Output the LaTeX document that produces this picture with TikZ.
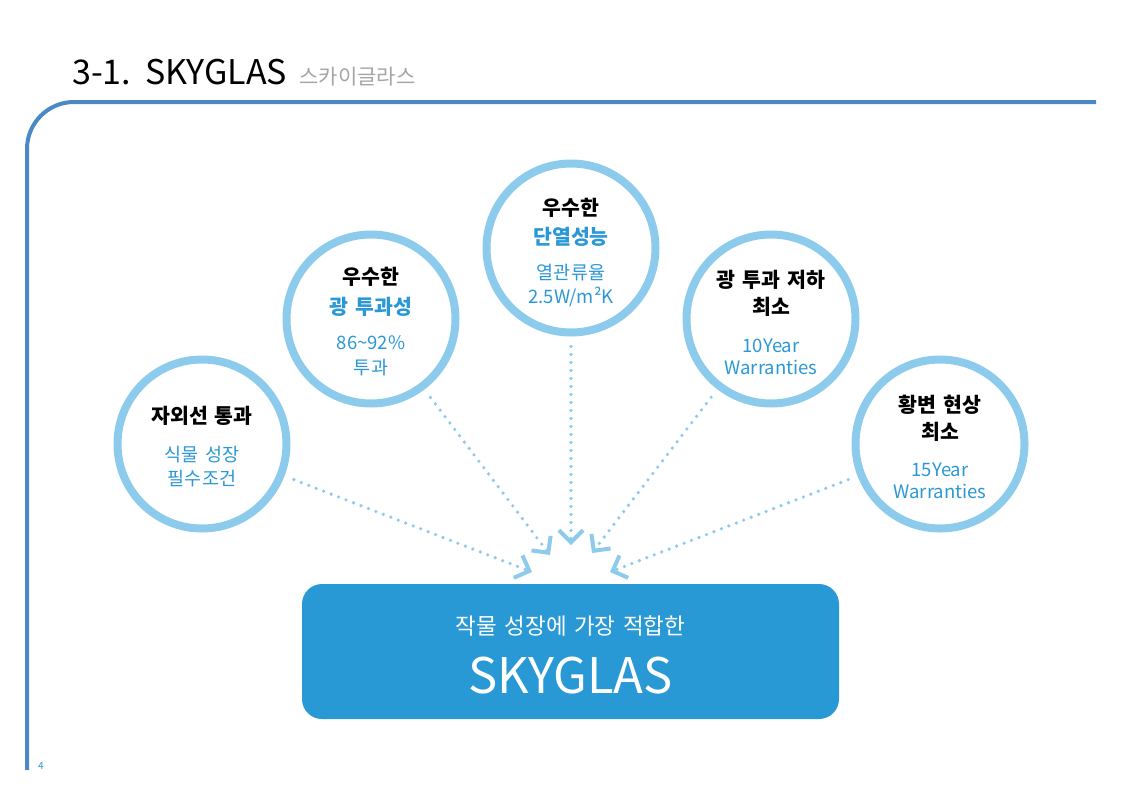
\documentclass[tikz,border=0pt]{standalone}
\usepackage{fontspec}
\setmainfont[WordSpace=1.5]{Noto Sans CJK KR}
\usetikzlibrary{positioning,arrows.meta}

\definecolor{frameblue}{RGB}{74,137,197}
\definecolor{ringblue}{RGB}{141,203,236}
\definecolor{textblue}{RGB}{42,152,214}
\definecolor{boxblue}{RGB}{41,153,214}
\definecolor{titlegray}{RGB}{165,165,165}

\begin{document}
\begin{tikzpicture}[x=1pt,y=-1pt,
  ring/.style={circle, draw=ringblue, line width=8pt, minimum size=169pt, inner sep=0pt},
  lbl/.style={inner sep=0pt, text depth=0pt},
  head/.style={lbl, text height=14.6pt, font=\fontsize{20.5}{20.5}\selectfont\bfseries},
  headblue/.style={head, text=textblue},
  note/.style={lbl, text height=13.3pt, text=textblue, font=\fontsize{18.5}{18.5}\selectfont},
  flow/.style={ringblue, line width=3.6pt, line cap=round,
    dash pattern=on 0pt off 8pt, shorten <=10pt,
    -{Straight Barb[length=12pt,width=24pt,line width=4pt]}}]

  \useasboundingbox (0,0) rectangle (1122,793);

  % title and frame
  \node[anchor=base west, inner sep=0pt, font=\fontsize{34}{34}\selectfont]
    (Title) at (72,84) {3-1. SKYGLAS};
  \node[anchor=base west, inner sep=0pt, text=titlegray, font=\fontsize{21}{21}\selectfont]
    (TitleKr) at ([xshift=12pt]Title.base east) {스카이글라스};
  \draw[frameblue, line width=4pt, rounded corners=47pt] (27,770) |- (1096,102);
  \node[text=textblue, font=\fontsize{10}{10}\selectfont] (PageNo) at (41,766) {4};

  % circles
  \node[ring] (UvC)     at (202,444) {};
  \node[ring] (LightC)  at (371,319) {};
  \node[ring] (HeatC)   at (571,248) {};
  \node[ring] (LossC)   at (771,319) {};
  \node[ring] (YellowC) at (940,444) {};

  \node[head] (UvA) at ([yshift=28pt]UvC)  {자외선 통과};
  \node[note] (UvB) at ([yshift=-11pt]UvC) {식물 성장};
  \node[note] (UvD) at ([yshift=-35pt]UvC) {필수조건};

  \node[head]     (LightA) at ([yshift=42pt]LightC)  {우수한};
  \node[headblue] (LightB) at ([yshift=12pt]LightC)  {광 투과성};
  \node[note]     (LightD) at ([yshift=-24pt]LightC) {86\textasciitilde92\%};
  \node[note]     (LightE) at ([yshift=-49pt]LightC) {투과};

  \node[head]     (HeatA) at ([yshift=40pt]HeatC)  {우수한};
  \node[headblue] (HeatB) at ([yshift=11pt]HeatC)  {단열성능};
  \node[note]     (HeatD) at ([yshift=-25pt]HeatC) {열관류율};
  \node[note]     (HeatE) at ([yshift=-49pt]HeatC) {2.5W/m²K};

  \node[head] (LossA) at ([yshift=39pt]LossC)  {광 투과 저하};
  \node[head] (LossB) at ([yshift=12pt]LossC)  {최소};
  \node[note] (LossD) at ([yshift=-27pt]LossC) {10Year};
  \node[note] (LossE) at ([yshift=-49pt]LossC) {Warranties};

  \node[head] (YellowA) at ([yshift=39pt]YellowC)  {황변 현상};
  \node[head] (YellowB) at ([yshift=12pt]YellowC)  {최소};
  \node[note] (YellowD) at ([yshift=-26pt]YellowC) {15Year};
  \node[note] (YellowE) at ([yshift=-48pt]YellowC) {Warranties};

  % result box
  \node[fill=boxblue, rounded corners=20pt, minimum width=537pt, minimum height=135pt]
    (SkyBox) at (570.5,651.5) {};
  \node[lbl, text height=16.2pt, text=white, font=\fontsize{22.5}{22.5}\selectfont]
    (SkySub) at ([yshift=25.5pt]SkyBox) {작물 성장에 가장 적합한};
  \node[lbl, text height=35.3pt, text=white, font=\fontsize{49}{49}\selectfont]
    (SkyName) at ([yshift=-24.5pt]SkyBox) {SKYGLAS};

  % arrows
  \coordinate (UvT)     at (532,572);
  \coordinate (LightT)  at (550,555);
  \coordinate (HeatT)   at (571,545);
  \coordinate (LossT)   at (592,553);
  \coordinate (YellowT) at (610,572);

  \draw[flow] (UvC) -- (UvT);
  \draw[flow] (LightC) -- (LightT);
  \draw[flow] (HeatC) -- (HeatT);
  \draw[flow] (LossC) -- (LossT);
  \draw[flow] (YellowC) -- (YellowT);
\end{tikzpicture}
\end{document}
